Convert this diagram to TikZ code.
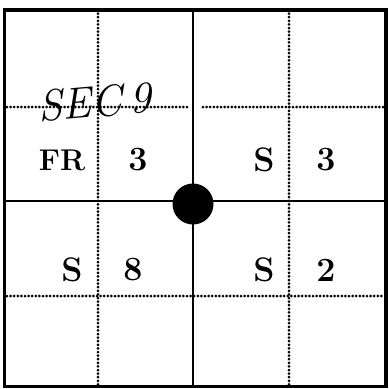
\documentclass[tikz,border=0pt]{standalone}
\usepackage{fontspec}
\usepackage{tikz}
\usetikzlibrary{positioning}

\tikzset{
	gridline/.style={line width=3pt, line cap=round, dash pattern=on 0pt off 3.6pt},
	quarter/.style={line width=2.4pt},
	tractlabel/.style={font=\fontsize{34}{34}\selectfont\bfseries, inner sep=0pt},
}

\begin{document}
\begin{tikzpicture}[x=1pt, y=-1pt]
		
		% Fix the page size
		\useasboundingbox (0,0) rectangle (389,389);
		
		% Draw the quarter-quarter dotted lines
		\draw[gridline] (98,10) -- (98,386);
		\draw[gridline] (289,10) -- (289,386);
		\draw[gridline] (7,107) -- (190,107);
		\draw[gridline] (203,107) -- (384,107);
		\draw[gridline] (7,296) -- (384,296);
		
		% Draw the quarter lines
		\draw[quarter] (193,9) -- (193,387);
		\draw[quarter] (5,201) -- (385,201);
		
		% Draw the section outline
		\draw[line width=3.4pt] (4.5,10) rectangle (386,386.5);
		
		% Mark the well at the centre
		\node[circle, fill=black, minimum size=41pt, inner sep=0pt] (well) at (193,204) {};
		
		% Add the tract labels
		\node[tractlabel, font=\fontsize{30}{30}\selectfont\bfseries] (nwfr) at (62,160) {FR};
		\node[tractlabel] (nwcount) at (138,160) {3};
		\node[tractlabel] (nes) at (264,160) {S};
		\node[tractlabel] (necount) at (326,160) {3};
		\node[tractlabel] (sws) at (72,270) {S};
		\node[tractlabel] (swcount) at (133,270) {8};
		\node[tractlabel] (ses) at (264,270) {S};
		\node[tractlabel] (secount) at (326,270) {2};
		
		% Add the handwritten section number
		\node[font=\fontsize{44}{44}\selectfont\itshape, rotate=5, inner sep=0pt] (secno) at (95,102) {SEC\,9};
		
	\end{tikzpicture}
\end{document}
